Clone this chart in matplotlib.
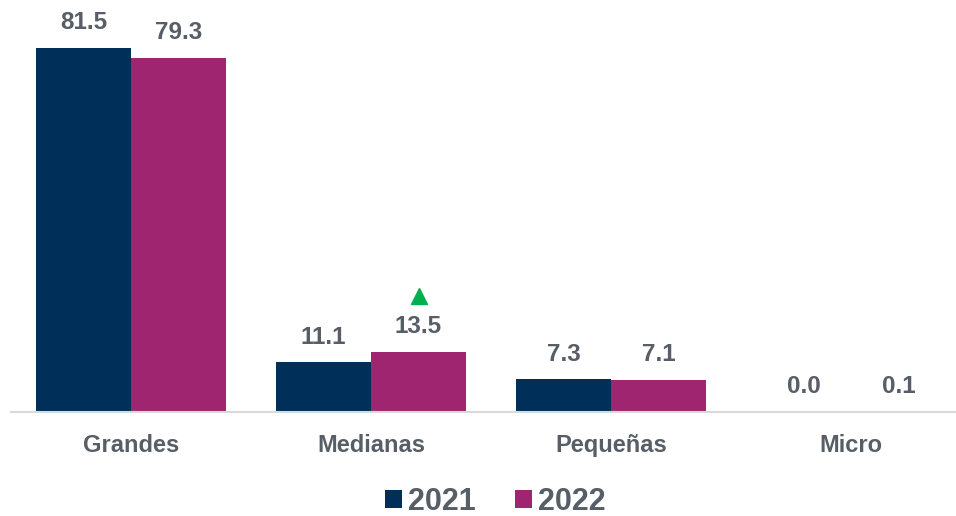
import matplotlib.pyplot as plt
import matplotlib.transforms as mtransforms
import numpy as np

plt.rcParams["font.family"] = ["Liberation Sans", "DejaVu Sans"]

categories = ["Grandes", "Medianas", "Pequeñas", "Micro"]
years = ["2021", "2022"]
values_2021 = [81.5, 11.1, 7.3, 0.0]
values_2022 = [79.3, 13.5, 7.1, 0.1]
up_marks_2022 = [False, True, False, False]

navy = "#00305A"
magenta = "#A02571"
text_grey = "#575E66"

fig = plt.figure(figsize=(9.56, 5.16), dpi=100)
ax = fig.add_axes([11 / 956, 104 / 516, 945 / 956, 412 / 516])

x = np.arange(len(categories))
w = 95 / 240
b1 = ax.bar(x - w / 2, values_2021, width=w, color=navy, label=years[0])
b2 = ax.bar(x + w / 2, values_2022, width=w, color=magenta, label=years[1])

for bars in (b1, b2):
    for rect in bars:
        h = rect.get_height()
        ax.annotate(f"{h:.1f}", (rect.get_x() + rect.get_width() / 2, h),
                    xytext=(0, 10), textcoords="offset points",
                    ha="center", va="bottom", fontsize=17.5,
                    fontweight="bold", color=text_grey)

# green up-arrow above the 2022 label where share grew
shift = mtransforms.ScaledTranslation(0, 56 / 100, fig.dpi_scale_trans)
for rect, up in zip(b2, up_marks_2022):
    if up:
        ax.plot(rect.get_x() + rect.get_width() / 2, rect.get_height(),
                marker="^", markersize=12, color="#00B050",
                transform=ax.transData + shift, clip_on=False)

ax.set_xlim(-0.5, -0.5 + 945 / 240)
ax.set_ylim(0, 412 / 4.466)
ax.set_xticks(x)
ax.set_xticklabels(categories, fontsize=17, fontweight="bold", color=text_grey)
ax.tick_params(axis="x", length=0, pad=16)
ax.set_yticks([])
for side in ("top", "right", "left"):
    ax.spines[side].set_visible(False)
ax.spines["bottom"].set_color("#D9D9D9")
ax.spines["bottom"].set_linewidth(1.5)

leg = fig.legend(handles=[b1, b2], labels=years, loc="lower center",
                 bbox_to_anchor=(0.518, -0.055), ncol=2, frameon=False,
                 handlelength=0.55, handleheight=0.55, handletextpad=0.2,
                 columnspacing=1.3, prop={"size": 22, "weight": "bold"})
for t in leg.get_texts():
    t.set_color(text_grey)

fig.savefig("out.png", dpi=100)
